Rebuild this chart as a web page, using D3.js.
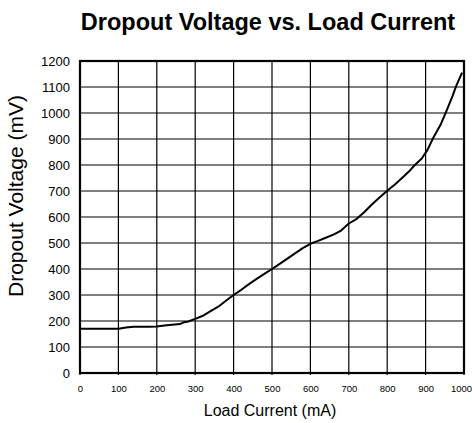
<!DOCTYPE html>
<html>
<head>
<meta charset="utf-8">
<script src="https://cdn.jsdelivr.net/npm/d3@7"></script>
<style>
  body { margin: 0; background: #fff; }
  svg { display: block; font-family: Arial, "Liberation Sans", sans-serif; }
</style>
</head>
<body>
<div id="chart"></div>
<script>
// load current (mA) and dropout voltage (mV)
const current = [0, 20, 40, 60, 80, 100, 120, 140, 160, 180, 200, 220, 240, 260, 270, 280,
  300, 320, 340, 360, 380, 400, 420, 440, 460, 480, 500, 520, 540, 560, 580, 600,
  620, 640, 660, 680, 700, 720, 740, 760, 780, 800, 820, 840, 860, 870, 890, 905,
  920, 940, 955, 970, 980, 995];
const dropout = [170, 170, 170, 170, 170, 170, 175, 178, 178, 178, 179, 183, 186, 188, 195, 197,
  208, 220, 238, 255, 278, 300, 320, 342, 362, 381, 400, 420, 440, 460, 480, 497,
  508, 520, 532, 548, 575, 592, 618, 648, 675, 701, 725, 752, 780, 797, 825, 858,
  905, 958, 1010, 1065, 1105, 1155];
const xTicks = [0, 100, 200, 300, 400, 500, 600, 700, 800, 900, 1000];
const yTicks = [0, 100, 200, 300, 400, 500, 600, 700, 800, 900, 1000, 1100, 1200];

const width = 472, height = 423;
const margin = { top: 61, right: 8, bottom: 50, left: 80 };
const iw = 384, ih = 312;

const svg = d3.select("#chart").append("svg")
  .attr("width", width)
  .attr("height", height);

const x = d3.scaleLinear().domain([0, 1000]).range([0, iw]);
const y = d3.scaleLinear().domain([0, 1200]).range([ih, 0]);

const g = svg.append("g").attr("transform", `translate(${margin.left},${margin.top})`);

// grid
g.append("g").selectAll("line").data(xTicks).join("line")
  .attr("x1", d => x(d)).attr("x2", d => x(d))
  .attr("y1", 0).attr("y2", ih + 2)
  .attr("stroke", "#000").attr("stroke-width", 1.2);
g.append("g").selectAll("line").data(yTicks).join("line")
  .attr("x1", 0).attr("x2", iw)
  .attr("y1", d => y(d)).attr("y2", d => y(d))
  .attr("stroke", "#000").attr("stroke-width", 1.2);

// frame
g.append("rect")
  .attr("width", iw).attr("height", ih)
  .attr("fill", "none").attr("stroke", "#000").attr("stroke-width", 2.2);

// axes labels
const xAxis = d3.axisBottom(x).tickValues(xTicks).tickFormat(d3.format("d")).tickSize(0).tickPadding(12);
g.append("g").attr("transform", `translate(0,${ih})`).call(xAxis)
  .call(s => s.select(".domain").remove())
  .selectAll("text")
  .attr("font-size", 9.5)
  .attr("font-family", "Arial, 'Liberation Sans', sans-serif")
  .attr("dx", d => d === 1000 ? -3 : 0);

const yAxis = d3.axisLeft(y).tickValues(yTicks).tickFormat(d3.format("d")).tickSize(0).tickPadding(10);
g.append("g").call(yAxis)
  .call(s => s.select(".domain").remove())
  .selectAll("text").attr("font-size", 13).attr("font-family", "Arial, 'Liberation Sans', sans-serif");

// curve
const pts = current.map((c, i) => [c, dropout[i]]);
g.append("path")
  .datum(pts)
  .attr("fill", "none")
  .attr("stroke", "#000")
  .attr("stroke-width", 2)
  .attr("stroke-linejoin", "round")
  .attr("d", d3.line().x(d => x(d[0])).y(d => y(d[1])));

// titles
svg.append("text")
  .attr("x", 268).attr("y", 30)
  .attr("text-anchor", "middle")
  .attr("font-weight", "bold")
  .attr("font-size", 23.5)
  .text("Dropout Voltage vs. Load Current");

svg.append("text")
  .attr("x", 270).attr("y", 416)
  .attr("text-anchor", "middle")
  .attr("font-size", 16)
  .text("Load Current (mA)");

svg.append("text")
  .attr("transform", "translate(23,297) rotate(-90)")
  .attr("text-anchor", "start")
  .attr("font-size", 21)
  .text("Dropout Voltage (mV)");
</script>
</body>
</html>
